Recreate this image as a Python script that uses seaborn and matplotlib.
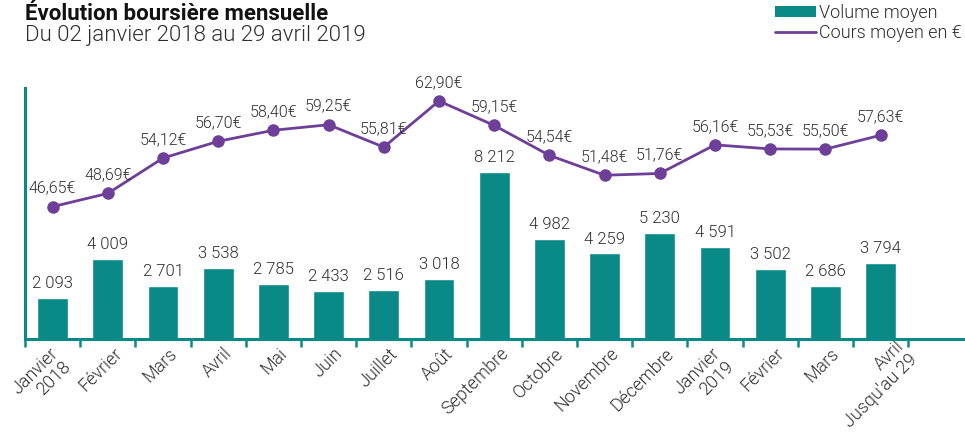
import matplotlib
matplotlib.use("Agg")
import matplotlib.pyplot as plt
import matplotlib.transforms as mtransforms
from matplotlib.patches import Patch
from matplotlib.lines import Line2D
import pandas as pd
import seaborn as sns

# Données
mois = ["Janvier\n2018", "Février", "Mars", "Avril", "Mai", "Juin", "Juillet", "Août",
        "Septembre", "Octobre", "Novembre", "Décembre", "Janvier\n2019", "Février",
        "Mars", "Avril\nJusqu'au 29"]
volume = [2093, 4009, 2701, 3538, 2785, 2433, 2516, 3018,
          8212, 4982, 4259, 5230, 4591, 3502, 2686, 3794]
cours = [46.65, 48.69, 54.12, 56.70, 58.40, 59.25, 55.81, 62.90,
         59.15, 54.54, 51.48, 51.76, 56.16, 55.53, 55.50, 57.63]

teal = "#098a87"
purple = "#6e3f98"
txt = "#2e2e2e"
w_light = 300

sns.set_style("white")
plt.rcParams['font.family'] = ['Roboto', 'DejaVu Sans']

df = pd.DataFrame({'pos': range(len(mois)), 'volume': volume, 'cours': cours})

fig = plt.figure(figsize=(9.65, 4.32), dpi=100)
ax = fig.add_axes([25 / 965, 1 - 339 / 432, 1 - 25 / 965, 251 / 432])

sns.barplot(data=df, x='pos', y='volume', color=teal, width=0.56,
            saturation=1, ax=ax, native_scale=True)
ax.set_ylim(126, 12257)
ax.set_xlim(-0.5, 16.53)

for i, v in enumerate(volume):
    ax.annotate(f"{v:,}".replace(",", " "), (i, v), xytext=(0, 5),
                textcoords='offset points', ha='center', va='bottom',
                fontsize=12, color=txt, fontweight=w_light)

# Axe secondaire pour le cours
ax2 = ax.twinx()
sns.lineplot(data=df, x='pos', y='cours', ax=ax2, color=purple, linewidth=2,
             marker='o', markersize=9, markeredgewidth=0)
ax2.set_ylim(26.3, 64.9)
ax2.set_xlim(-0.5, 16.53)
for i, c in enumerate(cours):
    ax2.annotate(f"{c:.2f}".replace(".", ",") + "€", (i, c), xytext=(0, 8),
                 textcoords='offset points', ha='center', va='bottom',
                 fontsize=11.5, color=txt, fontweight=w_light)

for a in (ax, ax2):
    a.set_xlabel("")
    a.set_ylabel("")
    a.set_yticks([])
    for s in a.spines.values():
        s.set_visible(False)

ax.spines['left'].set_visible(True)
ax.spines['bottom'].set_visible(True)
ax.spines['left'].set_color(teal)
ax.spines['bottom'].set_color(teal)
ax.spines['left'].set_linewidth(2.2)
ax.spines['bottom'].set_linewidth(2.2)

# Graduations aux limites des catégories, libellés au centre
ax.set_xticks([i - 0.5 for i in range(len(mois) + 1)])
ax.set_xticklabels([])
ax.set_xticks(range(len(mois)), minor=True)
ax.set_xticklabels(mois, minor=True)
ax.tick_params(axis='x', which='major', direction='out', length=6, width=1.8,
               color=teal, bottom=True)
ax.tick_params(axis='x', which='minor', length=0, pad=4, labelsize=13,
               labelcolor=txt)
for lab in ax.get_xticklabels(minor=True):
    text = lab.get_text()
    dy = 0
    if text.startswith("Janvier"):
        dx = -4
    elif "\n" in text:
        dx, dy = 14, 7
    else:
        dx = 5
    lab.set_rotation(45)
    lab.set_ha('right')
    lab.set_va('top')
    lab.set_rotation_mode('anchor')
    lab.set_multialignment('right')
    lab.set_fontweight(w_light)
    lab.set_linespacing(1.05)
    lab.set_transform(lab.get_transform()
                      + mtransforms.ScaledTranslation(dx / 100, dy / 100, fig.dpi_scale_trans))

fig.text(25 / 965, 1 - 3 / 432, "Évolution boursière mensuelle", ha='left', va='top',
         fontsize=16, fontweight='bold', color='#111111')
fig.text(25 / 965, 1 - 25 / 432, "Du 02 janvier 2018 au 29 avril 2019", ha='left',
         va='top', fontsize=16, fontweight=w_light, color=txt)

handles = [Patch(facecolor=teal, edgecolor='none'),
           Line2D([0], [0], color=purple, linewidth=2)]
fig.legend(handles, ["Volume moyen", "Cours moyen en €"], loc='upper right',
           bbox_to_anchor=(1.0, 1.0), frameon=False, handlelength=2.3,
           handleheight=0.6, handletextpad=0.15, labelspacing=0.15, borderpad=0.2,
           borderaxespad=0, prop={'weight': w_light, 'size': 13}, labelcolor=txt)

plt.savefig("out.png", dpi=100)
